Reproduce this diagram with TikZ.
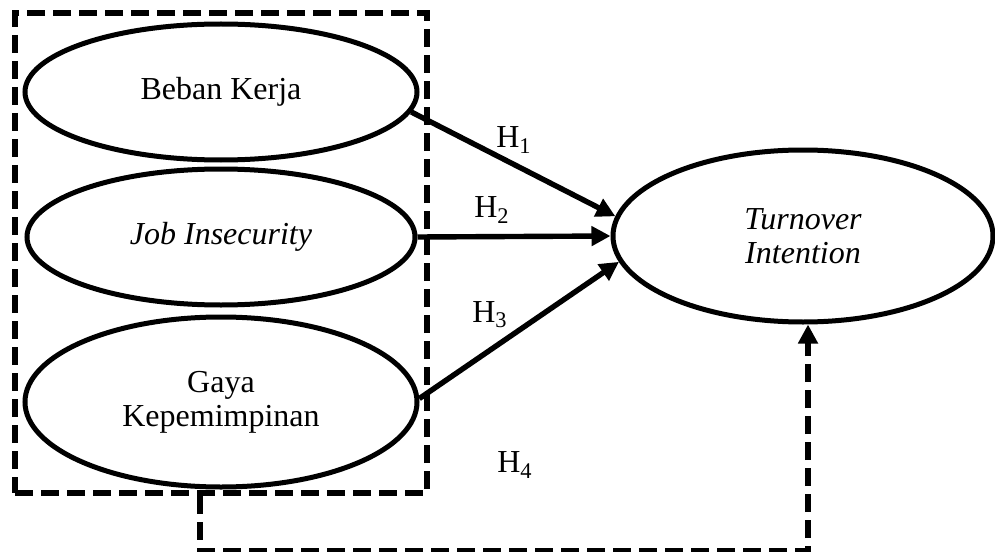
\documentclass[tikz,border=0pt]{standalone}
\usepackage{fontspec}
\setmainfont{Liberation Serif}
\usetikzlibrary{shapes.geometric,arrows.meta,fit}
\begin{document}
\begin{tikzpicture}[x=0.5pt,y=-0.5pt,
  font=\fontsize{16}{17}\selectfont,
  latent/.style={draw, ellipse, line width=2.5pt, inner sep=0pt, align=center},
  path arrow/.style={line width=2.7pt, -{Triangle[length=9.5pt,width=9.5pt]}},
  dashbox/.style={draw, line width=3.2pt, dash pattern=on 9pt off 4pt, inner sep=0pt},
  dash arrow/.style={line width=3.2pt, dash pattern=on 9pt off 4pt, line join=miter, -{Triangle[length=9.5pt,width=9.5pt]}},
  hlabel/.style={inner sep=0pt}
]
\useasboundingbox (0,0) rectangle (995,551);
\coordinate (bxa) at (15,13);
\coordinate (bxb) at (427,493);
\node[dashbox, fit=(bxa)(bxb)] (box) {};
\node[latent, minimum width=196pt, minimum height=68pt] (bk) at (221,92) {Beban Kerja};
\node[latent, minimum width=194pt, minimum height=68pt] (ji) at (221,237) {\itshape Job Insecurity};
\node[latent, minimum width=196pt, minimum height=85pt] (gk) at (221,402) {Gaya\\Kepemimpinan};
\node[latent, minimum width=190pt, minimum height=86pt] (ti) at (803,236) {\itshape Turnover\\\itshape Intention};
\draw[path arrow] (bk.-6) -- (ti.174);
\draw[path arrow] (ji.east) -- (ti.west);
\draw[path arrow] (gk.1.5) -- (ti.-172);
\draw[dash arrow] ([xshift=-10.5pt]box.south) -- ++(0,55) -| ([xshift=2.5pt]ti.south);
\node[hlabel] (h1) at (514,140) {H\textsubscript{1}};
\node[hlabel] (h2) at (492,210) {H\textsubscript{2}};
\node[hlabel] (h3) at (490,315) {H\textsubscript{3}};
\node[hlabel] (h4) at (515,465) {H\textsubscript{4}};
\end{tikzpicture}
\end{document}
